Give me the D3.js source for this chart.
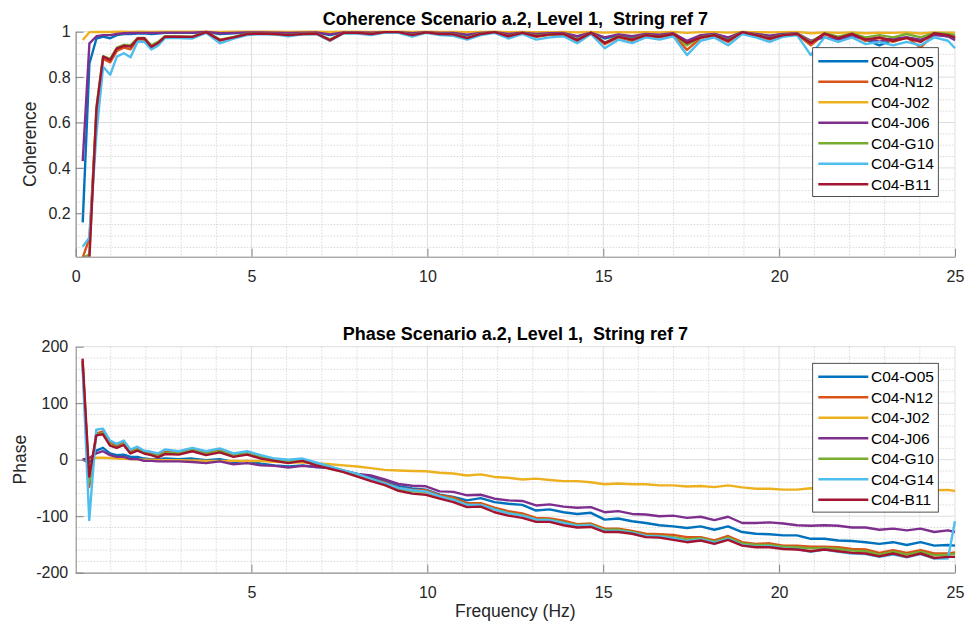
<!DOCTYPE html>
<html>
<head>
<meta charset="utf-8">
<script src="https://cdnjs.cloudflare.com/ajax/libs/d3/7.8.5/d3.min.js"></script>
<style>
  body { margin: 0; background: #fff; }
  svg { display: block; font-family: Arial, "Liberation Sans", Helvetica, sans-serif; }
</style>
</head>
<body>
<svg></svg>
<script>
// frequency bins (Hz)
const freq = [0.20, 0.39, 0.59, 0.78, 0.98, 1.17, 1.37, 1.56, 1.76, 1.95,
  2.15, 2.34, 2.54, 2.93, 3.32, 3.71, 4.10, 4.49, 4.88, 5.27,
  5.66, 6.05, 6.45, 6.84, 7.23, 7.62, 8.01, 8.40, 8.79, 9.18,
  9.57, 9.96, 10.35, 10.74, 11.13, 11.52, 11.91, 12.30, 12.70, 13.09,
  13.48, 13.87, 14.26, 14.65, 15.04, 15.43, 15.82, 16.21, 16.60, 16.99,
  17.38, 17.77, 18.16, 18.55, 18.95, 19.34, 19.73, 20.12, 20.51, 20.90,
  21.29, 21.68, 22.07, 22.46, 22.85, 23.24, 23.63, 24.02, 24.41, 24.80,
  25.00];

const names = ['C04-O05', 'C04-N12', 'C04-J02', 'C04-J06', 'C04-G10', 'C04-G14', 'C04-B11'];
const colors = ['#0072BD', '#D95319', '#EDB120', '#7E2F8E', '#77AC30', '#4DBEEE', '#A2142F'];

// coherence
const cohO05 = [0.16, 0.86, 0.97, 0.978, 0.971, 0.985, 0.99, 0.99, 0.992, 0.993,
  0.99, 0.992, 0.995, 0.995, 0.995, 0.998, 0.99, 0.993, 0.996, 0.996,
  0.995, 0.994, 0.995, 0.996, 0.985, 0.997, 0.997, 0.995, 0.998, 0.998,
  0.992, 0.998, 0.994, 0.993, 0.985, 0.994, 0.998, 0.988, 0.996, 0.988,
  0.992, 0.993, 0.978, 0.996, 0.97, 0.985, 0.975, 0.99, 0.985, 0.993,
  0.955, 0.982, 0.99, 0.97, 0.998, 0.99, 0.98, 0.99, 0.993, 0.955,
  0.99, 0.975, 0.99, 0.965, 0.94, 0.965, 0.975, 0.96, 0.99, 0.98,
  0.97];
const cohN12 = [0.005, 0.09, 0.64, 0.88, 0.865, 0.915, 0.93, 0.922, 0.965, 0.965,
  0.928, 0.945, 0.975, 0.976, 0.975, 0.998, 0.96, 0.973, 0.99, 0.991,
  0.99, 0.984, 0.99, 0.991, 0.96, 0.995, 0.994, 0.99, 0.998, 0.997,
  0.984, 0.996, 0.99, 0.987, 0.97, 0.99, 0.997, 0.978, 0.994, 0.978,
  0.986, 0.988, 0.958, 0.994, 0.945, 0.975, 0.96, 0.983, 0.975, 0.988,
  0.92, 0.972, 0.983, 0.955, 0.997, 0.982, 0.965, 0.983, 0.988, 0.94,
  0.99, 0.968, 0.987, 0.96, 0.972, 0.955, 0.975, 0.93, 0.99, 0.98,
  0.972];
const cohJ02 = [0.963, 0.998, 0.999, 0.999, 0.999, 1, 1, 0.999, 1, 1,
  0.999, 1, 1, 1, 1, 1, 0.999, 1, 1, 1,
  1, 0.999, 1, 1, 0.999, 1, 1, 0.999, 1, 1,
  0.999, 1, 0.999, 0.999, 0.998, 0.999, 1, 0.998, 0.999, 0.998,
  0.998, 0.999, 0.997, 0.999, 0.996, 0.998, 0.997, 0.998, 0.997, 0.999,
  0.995, 0.998, 0.998, 0.996, 0.999, 0.998, 0.997, 0.998, 0.999, 0.993,
  0.997, 0.995, 0.997, 0.993, 0.996, 0.995, 0.997, 0.992, 0.997, 0.996,
  0.996];
const cohJ06 = [0.43, 0.949, 0.98, 0.985, 0.985, 0.99, 0.993, 0.994, 0.995, 0.995,
  0.994, 0.995, 0.996, 0.996, 0.996, 0.999, 0.993, 0.995, 0.997, 0.997,
  0.996, 0.995, 0.996, 0.997, 0.988, 0.997, 0.997, 0.996, 0.998, 0.998,
  0.993, 0.998, 0.995, 0.994, 0.987, 0.995, 0.998, 0.99, 0.996, 0.99,
  0.993, 0.994, 0.98, 0.996, 0.975, 0.988, 0.98, 0.99, 0.987, 0.993,
  0.96, 0.985, 0.99, 0.975, 0.998, 0.99, 0.982, 0.99, 0.993, 0.96,
  0.975, 0.965, 0.98, 0.97, 0.956, 0.97, 0.975, 0.965, 0.985, 0.98,
  0.963];
const cohG10 = [0.002, 0.02, 0.67, 0.892, 0.88, 0.93, 0.942, 0.94, 0.972, 0.973,
  0.94, 0.955, 0.98, 0.979, 0.978, 0.998, 0.965, 0.977, 0.991, 0.992,
  0.99, 0.986, 0.991, 0.992, 0.966, 0.995, 0.995, 0.991, 0.998, 0.998,
  0.986, 0.997, 0.991, 0.989, 0.974, 0.991, 0.998, 0.981, 0.995, 0.982,
  0.989, 0.99, 0.965, 0.995, 0.952, 0.979, 0.967, 0.986, 0.979, 0.99,
  0.94, 0.976, 0.986, 0.962, 0.998, 0.986, 0.972, 0.986, 0.991, 0.955,
  0.993, 0.978, 0.992, 0.975, 0.985, 0.975, 0.99, 0.975, 0.995, 0.99,
  0.985];
const cohG14 = [0.053, 0.094, 0.55, 0.846, 0.81, 0.89, 0.905, 0.887, 0.956, 0.956,
  0.922, 0.938, 0.972, 0.972, 0.97, 0.995, 0.949, 0.97, 0.985, 0.99,
  0.988, 0.98, 0.988, 0.99, 0.96, 0.993, 0.992, 0.985, 0.996, 0.995,
  0.978, 0.995, 0.985, 0.982, 0.965, 0.985, 0.995, 0.97, 0.99, 0.965,
  0.975, 0.98, 0.949, 0.99, 0.927, 0.965, 0.95, 0.975, 0.965, 0.98,
  0.897, 0.96, 0.975, 0.94, 0.99, 0.975, 0.955, 0.978, 0.985, 0.897,
  0.975, 0.955, 0.975, 0.945, 0.955, 0.94, 0.955, 0.94, 0.975, 0.96,
  0.927];
const cohB11 = [0.003, 0.004, 0.66, 0.89, 0.875, 0.925, 0.938, 0.934, 0.97, 0.971,
  0.934, 0.95, 0.978, 0.978, 0.977, 0.998, 0.963, 0.975, 0.99, 0.992,
  0.99, 0.985, 0.99, 0.992, 0.963, 0.995, 0.995, 0.99, 0.998, 0.998,
  0.985, 0.997, 0.99, 0.988, 0.972, 0.99, 0.998, 0.98, 0.995, 0.98,
  0.988, 0.99, 0.963, 0.995, 0.95, 0.978, 0.965, 0.985, 0.978, 0.99,
  0.95, 0.975, 0.985, 0.96, 0.998, 0.985, 0.97, 0.985, 0.99, 0.95,
  0.992, 0.972, 0.99, 0.965, 0.975, 0.96, 0.972, 0.955, 0.993, 0.985,
  0.975];

// phase (deg)
const phO05 = [0, -5, 16, 21, 11, 8, 9, 5, 5, 2,
  1, 1, 2, 1, 2, -1, 1, -4, -2, -7,
  -10, -12, -10, -13, -14, -20, -25, -31, -38, -47,
  -51, -53, -62, -66, -72, -68, -75, -78, -80, -90,
  -88, -93, -96, -94, -106, -104, -109, -112, -116, -118,
  -121, -118, -124, -118, -128, -131, -132, -134, -134, -140,
  -140, -143, -144, -146, -149, -146, -151, -146, -152, -151,
  -152];
const phN12 = [175, -48, 46, 50, 30, 25, 30, 15, 20, 14,
  11, 8, 14, 13, 19, 12, 17, 9, 13, 5,
  0, -3, 0, -7, -13, -19, -26, -34, -40, -50,
  -53, -54, -63, -67, -77, -77, -85, -91, -95, -103,
  -104, -108, -114, -113, -122, -122, -126, -131, -132, -133,
  -137, -137, -143, -135, -146, -149, -148, -152, -152, -154,
  -154, -155, -158, -159, -165, -160, -165, -160, -166, -166,
  -164];
const phJ02 = [0, 2, 3.5, 3.5, 3, 2, 1.5, 1, 0.5, 0,
  0, -0.5, -1, -1, -1.5, -2, -2, -2, -2, -2.5,
  -3.5, -4.5, -5, -6, -8, -10, -12, -15, -18, -19,
  -20, -20.5, -23, -24.5, -28, -26, -30.5, -32, -35, -33.5,
  -36, -38, -38, -40, -43.5, -42, -43.5, -43.5, -45.5, -45.5,
  -47.5, -46.5, -48.5, -45.5, -49, -51.5, -51.5, -53, -53, -50.5,
  -51, -52, -53, -53, -54, -54, -55, -55, -54, -53.5,
  -55.5];
const phJ06 = [0, 3, 11, 15, 8, 5, 5, 1, 1, -2,
  -2, -3, -3, -3, -4, -6, -3, -8, -6, -10,
  -11, -14, -11, -13, -15, -20, -25, -28, -35, -43,
  -46, -47, -56, -57, -63, -62, -69, -72, -73, -81,
  -79, -83, -85, -84, -93, -91, -96, -97, -100, -99,
  -103, -101, -107, -101, -112, -112, -111, -113, -116, -117,
  -116, -117, -120, -120, -124, -122, -125, -122, -128, -125,
  -128];
const phG10 = [170, -40, 44, 47, 27, 22, 28, 12, 18, 12,
  9, 6, 12, 11, 17, 10, 15, 7, 11, 4,
  -1, -4, -1, -8, -15, -21, -28, -36, -42, -52,
  -56, -57, -65, -70, -80, -80, -88, -94, -98, -106,
  -106, -111, -116, -115, -124, -124, -128, -134, -135, -137,
  -141, -139, -145, -138, -148, -151, -151, -154, -155, -157,
  -156, -158, -161, -162, -168, -163, -168, -163, -169, -168,
  -167];
const phG14 = [165, -107, 53, 55, 34, 28, 34, 18, 23, 16,
  14, 11, 18, 15, 21, 15, 20, 11, 15, 8,
  2, 0, 2, -5, -12, -19, -25, -34, -42, -50,
  -54, -56, -65, -71, -80, -80, -88, -95, -99, -106,
  -107, -112, -117, -116, -126, -126, -129, -135, -136, -139,
  -144, -141, -147, -140, -151, -154, -153, -157, -158, -163,
  -159, -163, -166, -167, -172, -168, -173, -167, -175, -175,
  -109];
const phB11 = [179, -30, 43, 45, 25, 21, 26, 11, 16, 11,
  8, 4, 10, 9, 15, 8, 13, 5, 9, 2,
  -2, -6, -2, -10, -16, -22, -30, -38, -45, -55,
  -60, -62, -69, -75, -84, -83, -93, -99, -103, -110,
  -110, -116, -120, -119, -128, -128, -131, -137, -138, -142,
  -146, -143, -149, -142, -152, -155, -155, -158, -159, -162,
  -159, -162, -165, -166, -171, -166, -172, -166, -174, -172,
  -172];

const cohTicks = [0.2, 0.4, 0.6, 0.8, 1];
const phTicks = [-200, -100, 0, 100, 200];

let width = 968;
let height = 628;
let left = 75.7;
let right = 955;

let svg = d3.select('svg')
            .attr('width', width)
            .attr('height', height);

function panel(p) {
  let xScale = d3.scaleLinear().domain(p.xDomain).range([left, right]);
  let yScale = d3.scaleLinear().domain(p.yDomain).range([p.bottom, p.top]);
  let g = svg.append('g');

  // minor grid (dotted)
  g.selectAll('.vminor').data(p.xMinor).enter().append('line')
    .attr('x1', d => xScale(d)).attr('x2', d => xScale(d))
    .attr('y1', p.top).attr('y2', p.bottom)
    .attr('stroke', '#cfcfcf').attr('stroke-width', 0.8)
    .attr('stroke-dasharray', '1.5,1.5');
  g.selectAll('.hminor').data(p.yMinor).enter().append('line')
    .attr('x1', left).attr('x2', right)
    .attr('y1', d => yScale(d)).attr('y2', d => yScale(d))
    .attr('stroke', '#cfcfcf').attr('stroke-width', 0.8)
    .attr('stroke-dasharray', '1.5,1.5');

  // major grid
  g.selectAll('.vmajor').data(p.xGrid).enter().append('line')
    .attr('x1', d => xScale(d)).attr('x2', d => xScale(d))
    .attr('y1', p.top).attr('y2', p.bottom)
    .attr('stroke', '#dedede').attr('stroke-width', 1);
  g.selectAll('.hmajor').data(p.yTicks).enter().append('line')
    .attr('x1', left).attr('x2', right)
    .attr('y1', d => yScale(d)).attr('y2', d => yScale(d))
    .attr('stroke', '#dedede').attr('stroke-width', 1);

  // lines
  let clipId = 'clip' + p.id;
  svg.append('clipPath').attr('id', clipId)
    .append('rect')
    .attr('x', left).attr('y', p.top - 2)
    .attr('width', right - left + 3).attr('height', p.bottom - p.top + 2);

  let line = d3.line()
    .x((d, i) => xScale(freq[i]))
    .y(d => yScale(d));

  g.append('g').attr('clip-path', `url(#${clipId})`)
    .selectAll('path')
    .data(p.series)
    .enter()
    .append('path')
    .attr('d', d => line(d))
    .attr('fill', 'none')
    .attr('stroke', (d, i) => colors[i])
    .attr('stroke-width', 2.4)
    .attr('stroke-linejoin', 'round');

  // axes
  let xAxis = d3.axisBottom(xScale)
    .tickValues(p.xTicks)
    .tickFormat(d => String(d))
    .tickSizeInner(-8)
    .tickSizeOuter(0)
    .tickPadding(14);
  let yAxis = d3.axisLeft(yScale)
    .tickValues(p.yTicks)
    .tickFormat(d => String(d))
    .tickSizeInner(-8)
    .tickSizeOuter(0)
    .tickPadding(p.yPad);

  let gx = g.append('g')
    .attr('transform', `translate(0,${p.bottom})`)
    .call(xAxis);
  let gy = g.append('g')
    .attr('transform', `translate(${left},0)`)
    .call(yAxis);

  [gx, gy].forEach(a => {
    a.select('.domain').attr('stroke', '#858585');
    a.selectAll('.tick line').attr('stroke', '#858585');
    a.selectAll('.tick text')
      .attr('fill', '#262626')
      .style('font-size', '16px')
      .style('font-family', 'Arial, "Liberation Sans", sans-serif');
  });

  // title
  g.append('text')
    .attr('x', (left + right) / 2)
    .attr('y', p.titleY)
    .attr('text-anchor', 'middle')
    .style('font-size', '18px')
    .style('font-weight', 'bold')
    .style('white-space', 'pre')
    .attr('fill', '#000')
    .text(p.title);

  // y label
  g.append('text')
    .attr('transform', `translate(${p.ylabelX},${(p.top + p.bottom) / 2}) rotate(-90)`)
    .attr('text-anchor', 'middle')
    .style('font-size', '17.5px')
    .attr('fill', '#262626')
    .text(p.ylabel);

  // legend
  let lg = g.append('g').attr('transform', `translate(812.7,${p.legendTop})`);
  lg.append('rect')
    .attr('x', 0).attr('y', 0)
    .attr('width', 125.6).attr('height', 148.8)
    .attr('fill', '#fff')
    .attr('stroke', '#262626')
    .attr('stroke-width', 0.8);
  names.forEach((n, i) => {
    let cy = 13.5 + i * 20.5;
    lg.append('line')
      .attr('x1', 5.6).attr('x2', 55.6)
      .attr('y1', cy).attr('y2', cy)
      .attr('stroke', colors[i])
      .attr('stroke-width', 2.5);
    lg.append('text')
      .attr('x', 58.3).attr('y', cy)
      .attr('dy', '0.36em')
      .style('font-size', '15.5px')
      .attr('fill', '#000')
      .text(n);
  });

  return { xScale, yScale };
}

panel({
  id: 'coh',
  top: 31.7, bottom: 256.7,
  xDomain: [0, 25], yDomain: [0.0088, 1],
  xTicks: [0, 5, 10, 15, 20, 25],
  xGrid: [0, 5, 10, 15, 20, 25],
  xMinor: d3.range(1, 25).filter(d => d % 5 !== 0),
  yTicks: cohTicks,
  yMinor: [0.05, 0.1, 0.15, 0.25, 0.3, 0.35, 0.45, 0.5, 0.55, 0.65, 0.7, 0.75, 0.85, 0.9, 0.95],
  yPad: 5,
  series: [cohO05, cohN12, cohJ02, cohJ06, cohG10, cohG14, cohB11],
  title: 'Coherence Scenario a.2, Level 1,  String ref 7',
  titleY: 25,
  ylabel: 'Coherence',
  ylabelX: 36,
  legendTop: 47.7
});

panel({
  id: 'ph',
  top: 346.7, bottom: 572.7,
  xDomain: [0.005, 25], yDomain: [-200, 200],
  xTicks: [5, 10, 15, 20, 25],
  xGrid: [5, 10, 15, 20, 25],
  xMinor: d3.range(1, 25).filter(d => d % 5 !== 0),
  yTicks: phTicks,
  yMinor: [-180, -160, -140, -120, -80, -60, -40, -20, 20, 40, 60, 80, 120, 140, 160, 180],
  yPad: 7.5,
  series: [phO05, phN12, phJ02, phJ06, phG10, phG14, phB11],
  title: 'Phase Scenario a.2, Level 1,  String ref 7',
  titleY: 340,
  ylabel: 'Phase',
  ylabelX: 26,
  legendTop: 363.3
});

svg.append('text')
  .attr('x', (left + right) / 2)
  .attr('y', 617)
  .attr('text-anchor', 'middle')
  .style('font-size', '17.5px')
  .attr('fill', '#262626')
  .text('Frequency (Hz)');
</script>
</body>
</html>
